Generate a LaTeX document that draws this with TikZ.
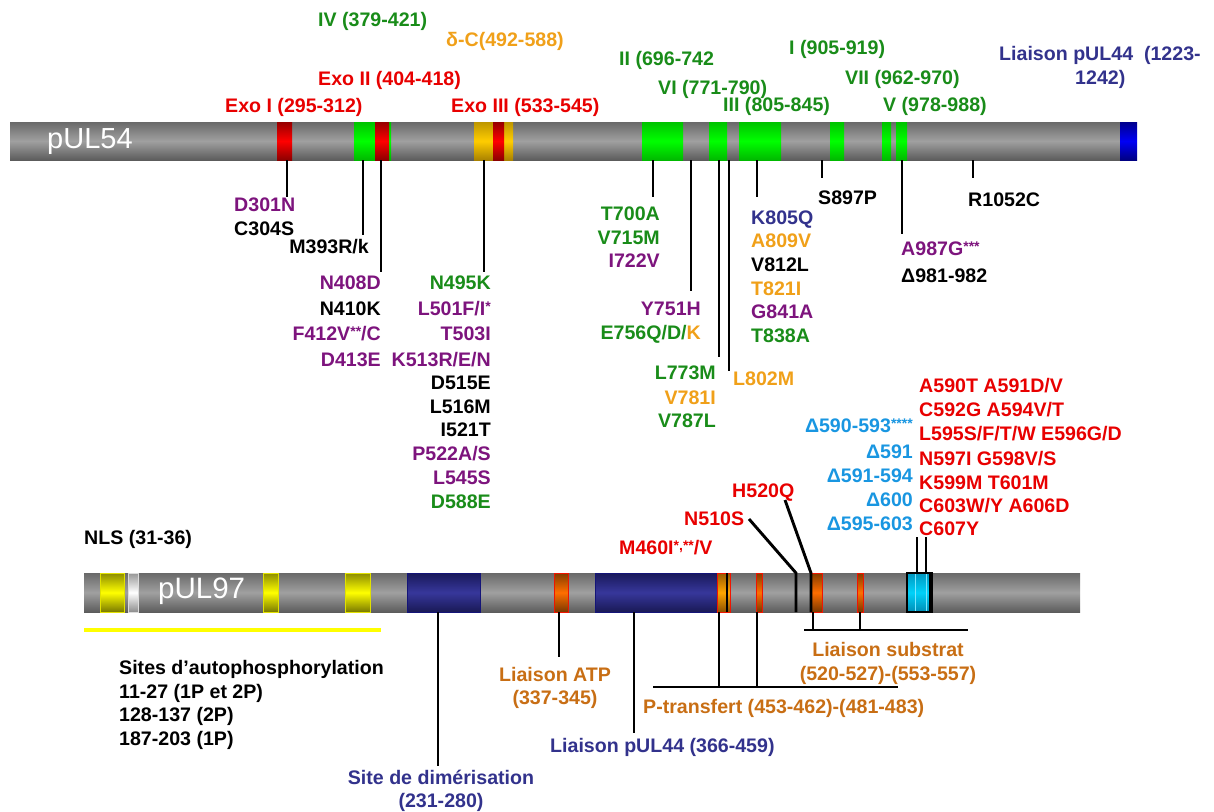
\documentclass[tikz,border=0pt]{standalone}
\usepackage{fontspec}
\setmainfont{Liberation Sans}
\definecolor{tgreen}{RGB}{25,140,25}
\definecolor{tred}{RGB}{232,0,0}
\definecolor{torange}{RGB}{240,160,25}
\definecolor{tpurple}{RGB}{125,20,125}
\definecolor{tnavy}{RGB}{50,50,140}
\definecolor{tcyan}{RGB}{25,150,225}
\definecolor{tbrown}{RGB}{200,110,20}
\definecolor{gA}{RGB}{105,105,105}\definecolor{gB}{RGB}{92,92,92}\definecolor{gC}{RGB}{160,160,160}
\definecolor{grA}{RGB}{0,195,0}\definecolor{grB}{RGB}{0,185,0}\definecolor{grC}{RGB}{0,255,0}
\definecolor{rdA}{RGB}{150,0,0}\definecolor{rdB}{RGB}{140,0,0}\definecolor{rdC}{RGB}{255,0,0}
\definecolor{ylA}{RGB}{190,150,0}\definecolor{ylB}{RGB}{170,130,0}\definecolor{ylC}{RGB}{255,205,0}
\definecolor{blA}{RGB}{0,0,140}\definecolor{blB}{RGB}{0,0,130}\definecolor{blC}{RGB}{0,0,245}
\definecolor{ybD}{RGB}{225,225,0}\definecolor{ybA}{RGB}{140,140,0}\definecolor{ybB}{RGB}{120,120,0}\definecolor{ybC}{RGB}{255,255,0}
\definecolor{wbD}{RGB}{220,220,220}\definecolor{wbA}{RGB}{150,150,150}\definecolor{wbB}{RGB}{140,140,140}
\definecolor{nbD}{RGB}{20,20,120}\definecolor{nbA}{RGB}{25,25,90}\definecolor{nbB}{RGB}{25,25,85}\definecolor{nbC}{RGB}{55,55,155}
\definecolor{obD}{RGB}{240,20,0}\definecolor{obA}{RGB}{130,60,0}\definecolor{obB}{RGB}{120,55,0}\definecolor{obC}{RGB}{255,110,0}
\definecolor{olA}{RGB}{150,90,0}\definecolor{olB}{RGB}{140,80,0}\definecolor{olC}{RGB}{255,165,0}
\definecolor{cbA}{RGB}{0,150,190}\definecolor{cbB}{RGB}{0,140,180}\definecolor{cbC}{RGB}{0,210,250}\definecolor{cbL}{RGB}{120,230,255}
\definecolor{yline}{RGB}{255,255,0}
\newcommand\stars[1]{\raisebox{4pt}{\fontsize{14}{14}\selectfont #1}}
\begin{document}
\begin{tikzpicture}[x=1pt,y=-1pt,
  lbl/.style={inner sep=0pt, font=\fontsize{19.6}{23}\selectfont\bfseries},
  conn/.style={line width=2.9pt, black},
  graybar/.style={top color=gA, bottom color=gB, middle color=gC},
  greenseg/.style={top color=grA, bottom color=grB, middle color=grC},
  redseg/.style={top color=rdA, bottom color=rdB, middle color=rdC},
  yelseg/.style={top color=ylA, bottom color=ylB, middle color=ylC},
  blueseg/.style={top color=blA, bottom color=blB, middle color=blC},
  ybox/.style={draw=ybD, line width=1pt, top color=ybA, bottom color=ybB, middle color=ybC},
  wbox/.style={draw=wbD, line width=1pt, top color=wbA, bottom color=wbB, middle color=white},
  nbox/.style={draw=nbD, line width=0.8pt, top color=nbA, bottom color=nbB, middle color=nbC},
  obox/.style={draw=obD, line width=1pt, top color=obA, bottom color=obB, middle color=obC},
  olbox/.style={draw=obD, line width=1pt, top color=olA, bottom color=olB, middle color=olC},
  cbox/.style={draw=black, line width=1.6pt, top color=cbA, bottom color=cbB, middle color=cbC}
]
\useasboundingbox (0,0) rectangle (1214,811);

% ---------------- pUL54 bar ----------------
\path[graybar] (10,122) rectangle (1120,160);
\path[redseg] (277,122) rectangle (292,160);
\path[greenseg] (354,122) rectangle (391,160);
\path[redseg] (375,122) rectangle (389,160);
\path[yelseg] (474,122) rectangle (513,160);
\path[redseg] (493,122) rectangle (504,160);
\path[greenseg] (642,122) rectangle (683,160);
\path[greenseg] (709,122) rectangle (727,160);
\path[greenseg] (739,122) rectangle (781,160);
\path[greenseg] (830,122) rectangle (844,160);
\path[greenseg] (882,122) rectangle (891,160);
\path[greenseg] (896,122) rectangle (907,160);
\path[blueseg] (1120,122) rectangle (1137,160);
\node[inner sep=0pt, anchor=base west, text=white, font=\fontsize{29}{32}\selectfont] (p54) at (47,148) {pUL54};

% top labels
\node[lbl, tgreen, anchor=base west] (IV) at (318,27) {IV (379-421)};
\node[lbl, torange, anchor=base west] (dC) at (446,46) {δ-C(492-588)};
\node[lbl, tred, anchor=base west] (exo2) at (318,85) {Exo II (404-418)};
\node[lbl, tred, anchor=base west] (exo1) at (225,112) {Exo I (295-312)};
\node[lbl, tred, anchor=base west] (exo3) at (451,112) {Exo III (533-545)};
\node[lbl, tgreen, anchor=base west] (II) at (619,65) {II (696-742};
\node[lbl, tgreen, anchor=base west] (VI) at (658,94) {VI (771-790)};
\node[lbl, tgreen, anchor=base west] (III) at (723,111) {III (805-845)};
\node[lbl, tgreen, anchor=base west] (I) at (789,54) {I (905-919)};
\node[lbl, tgreen, anchor=base west] (VII) at (845,84) {VII (962-970)};
\node[lbl, tgreen, anchor=base west] (V) at (883,111) {V (978-988)};
\node[lbl, tnavy, anchor=base west] (L44a) at (999,60) {Liaison pUL44\ \ (1223-};
\node[lbl, tnavy, anchor=base west] (L44b) at (1075,84) {1242)};

% top mutation connectors
\draw[conn] (287,160) -- (287,197);
\draw[conn] (363,160) -- (363,235);
\draw[conn] (381,160) -- (381,272);
\draw[conn] (484,160) -- (484,272);
\draw[conn] (653,160) -- (653,197);
\draw[conn] (691,160) -- (691,291);
\draw[conn] (719,160) -- (719,357);
\draw[conn] (729,160) -- (729,371);
\draw[conn] (757,160) -- (757,197);
\draw[conn] (822,160) -- (822,178);
\draw[conn] (902,160) -- (902,234);
\draw[conn] (973,160) -- (973,178);

% top mutation labels
\node[lbl, tpurple, anchor=base west] (m301) at (234,211) {D301N};
\node[lbl, anchor=base west] (m304) at (234,235) {C304S};
\node[lbl, anchor=base east] (m393) at (369,253) {M393R/k};
\node[lbl, tpurple, anchor=base east] (m408) at (381,289) {N408D};
\node[lbl, anchor=base east] (m410) at (381,315) {N410K};
\node[lbl, tpurple, anchor=base east] (m412) at (381,340) {F412V\stars{**}/C};
\node[lbl, tpurple, anchor=base east] (m413) at (381,366) {D413E};
\node[lbl, tgreen, anchor=base east] (m495) at (491,289) {N495K};
\node[lbl, tpurple, anchor=base east] (m501) at (491,315) {L501F/I\stars{*}};
\node[lbl, tpurple, anchor=base east] (m503) at (491,340) {T503I};
\node[lbl, tpurple, anchor=base east] (m513) at (491,366) {K513R/E/N};
\node[lbl, anchor=base east] (m515) at (491,389) {D515E};
\node[lbl, anchor=base east] (m516) at (491,413) {L516M};
\node[lbl, anchor=base east] (m521) at (491,436) {I521T};
\node[lbl, tpurple, anchor=base east] (m522) at (491,460) {P522A/S};
\node[lbl, tpurple, anchor=base east] (m545) at (491,484) {L545S};
\node[lbl, tgreen, anchor=base east] (m588) at (491,508) {D588E};
\node[lbl, tgreen, anchor=base east] (m700) at (660,220) {T700A};
\node[lbl, tgreen, anchor=base east] (m715) at (660,244) {V715M};
\node[lbl, tpurple, anchor=base east] (m722) at (660,267) {I722V};
\node[lbl, tpurple, anchor=base east] (m751) at (701,315) {Y751H};
\node[lbl, tgreen, anchor=base east] (m756) at (701,339) {E756Q/D/\textcolor{torange}{K}};
\node[lbl, tgreen, anchor=base east] (m773) at (716,379) {L773M};
\node[lbl, torange, anchor=base east] (m781) at (716,404) {V781I};
\node[lbl, tgreen, anchor=base east] (m787) at (716,427) {V787L};
\node[lbl, torange, anchor=base west] (m802) at (733,385) {L802M};
\node[lbl, tnavy, anchor=base west] (m805) at (751,224) {K805Q};
\node[lbl, torange, anchor=base west] (m809) at (751,247) {A809V};
\node[lbl, anchor=base west] (m812) at (751,271) {V812L};
\node[lbl, torange, anchor=base west] (m821) at (751,295) {T821I};
\node[lbl, tpurple, anchor=base west] (m841) at (751,318) {G841A};
\node[lbl, tgreen, anchor=base west] (m838) at (751,342) {T838A};
\node[lbl, anchor=base west] (m897) at (818,204) {S897P};
\node[lbl, tpurple, anchor=base west] (m987) at (901,255) {A987G\stars{***}};
\node[lbl, anchor=base west] (m981) at (901,282) {Δ981-982};
\node[lbl, anchor=base west] (m1052) at (968,206) {R1052C};

% ---------------- pUL97 mutations ----------------
\node[lbl, tcyan, anchor=base east] (d1) at (913,432) {Δ590-593\stars{****}};
\node[lbl, tcyan, anchor=base east] (d2) at (913,458) {Δ591};
\node[lbl, tcyan, anchor=base east] (d3) at (913,482) {Δ591-594};
\node[lbl, tcyan, anchor=base east] (d4) at (913,506) {Δ600};
\node[lbl, tcyan, anchor=base east] (d5) at (913,530) {Δ595-603};
\node[lbl, tred, anchor=base west] (r1) at (919,392) {A590T A591D/V};
\node[lbl, tred, anchor=base west] (r2) at (919,416) {C592G A594V/T};
\node[lbl, tred, anchor=base west] (r3) at (919,440) {L595S/F/T/W E596G/D};
\node[lbl, tred, anchor=base west] (r4) at (919,465) {N597I G598V/S};
\node[lbl, tred, anchor=base west] (r5) at (919,489) {K599M T601M};
\node[lbl, tred, anchor=base west] (r6) at (919,512) {C603W/Y A606D};
\node[lbl, tred, anchor=base west] (r7) at (919,535) {C607Y};
\node[lbl, tred, anchor=base west] (h520) at (732,497) {H520Q};
\node[lbl, tred, anchor=base west] (n510) at (684,525) {N510S};
\node[lbl, tred, anchor=base west] (m460) at (619,554) {M460I\stars{*,**}/V};
\node[lbl, anchor=base west] (nls) at (84,544) {NLS (31-36)};

% ---------------- pUL97 bar ----------------
\path[graybar] (84,573) rectangle (1080,612);
\path[ybox] (100,573) rectangle (124,612);
\path[wbox] (128,573) rectangle (138,612);
\path[ybox] (263,573) rectangle (278,612);
\path[ybox] (345,573) rectangle (370,612);
\path[nbox] (407,573) rectangle (480,612);
\path[obox] (554,573) rectangle (568,612);
\path[nbox] (595,573) rectangle (717,612);
\path[olbox] (717,573) rectangle (730,612);
\path[obox] (756,573) rectangle (762,612);
\path[obox] (811,573) rectangle (822,612);
\path[obox] (857,573) rectangle (863,612);
\path[cbox] (907,573) rectangle (932,612);
\draw[cbL, line width=0.8pt] (915,574) -- (915,611) (926,574) -- (926,611);
\draw[line width=3pt] (930.5,572) -- (930.5,613);
\node[inner sep=0pt, anchor=base west, text=white, font=\fontsize{29.5}{32}\selectfont] (p97) at (158,598) {pUL97};

% marks and connectors on pUL97
\draw[conn] (727,573) -- (727,612);
\draw[conn] (749,519) -- (796,573) -- (796,612);
\draw[conn] (785,500) -- (811,573) -- (811,612);
\draw[conn] (917,537) -- (917,573);
\draw[conn] (926,537) -- (926,573);

\draw[yline, line width=3.2pt] (84,630) -- (381,630);

\draw[conn] (438,612) -- (438,766);
\draw[conn] (559,612) -- (559,657);
\draw[conn] (634,612) -- (634,733);
\draw[conn] (719,612) -- (719,687);
\draw[conn] (757,612) -- (757,687);
\draw[conn] (653,687) -- (898,687);
\draw[conn] (813,612) -- (813,630);
\draw[conn] (860,612) -- (860,630);
\draw[conn] (804,630) -- (968,630);

% bottom labels
\node[lbl, anchor=base west] (s1) at (119,674) {Sites d’autophosphorylation};
\node[lbl, anchor=base west] (s2) at (119,698) {11-27 (1P et 2P)};
\node[lbl, anchor=base west] (s3) at (119,721) {128-137 (2P)};
\node[lbl, anchor=base west] (s4) at (119,745) {187-203 (1P)};
\node[lbl, tbrown, anchor=base] (atp1) at (555,681) {Liaison ATP};
\node[lbl, tbrown, anchor=base] (atp2) at (555,704) {(337-345)};
\node[lbl, tnavy, anchor=base] (dim1) at (441,784) {Site de dimérisation};
\node[lbl, tnavy, anchor=base] (dim2) at (441,807) {(231-280)};
\node[lbl, tnavy, anchor=base west] (p44) at (550,752) {Liaison pUL44 (366-459)};
\node[lbl, tbrown, anchor=base west] (ptr) at (643,713) {P-transfert (453-462)-(481-483)};
\node[lbl, tbrown, anchor=base] (sub1) at (888,656) {Liaison substrat};
\node[lbl, tbrown, anchor=base] (sub2) at (888,680) {(520-527)-(553-557)};
\end{tikzpicture}
\end{document}
